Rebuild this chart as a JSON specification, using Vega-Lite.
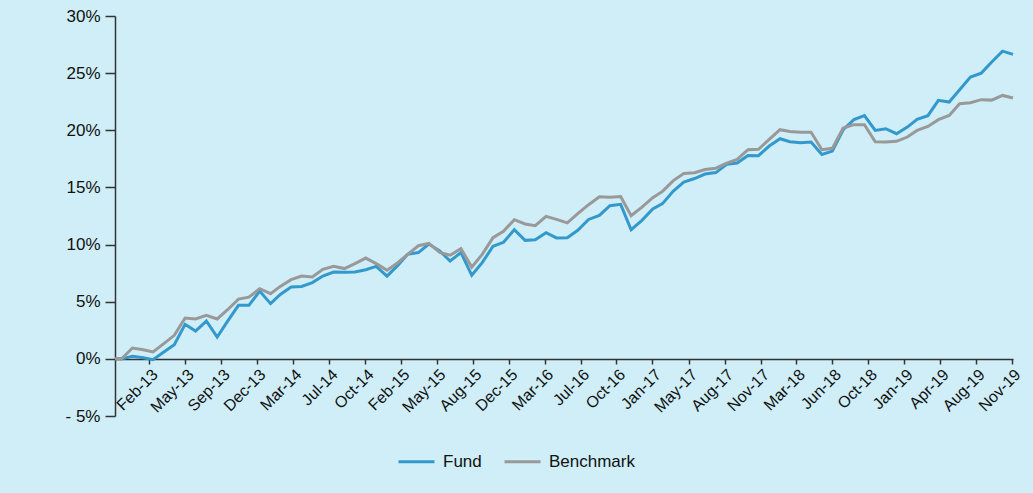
{
  "$schema": "https://vega.github.io/schema/vega-lite/v6.json",
  "width": 898,
  "height": 400,
  "autosize": {"type": "none"},
  "padding": {"left": 115, "top": 16, "right": 20, "bottom": 77},
  "background": "#cfeef8",
  "config": {"view": {"stroke": null}, "font": "Liberation Sans"},
  "data": {"values": [
    {"date": "2012-11-11", "Fund": 0, "Benchmark": 0},
    {"date": "2012-11-30", "Fund": 0, "Benchmark": 0},
    {"date": "2012-12-31", "Fund": 0.22, "Benchmark": 0.95},
    {"date": "2013-01-31", "Fund": 0.1, "Benchmark": 0.8},
    {"date": "2013-02-28", "Fund": -0.07, "Benchmark": 0.6},
    {"date": "2013-03-31", "Fund": 0.6, "Benchmark": 1.33},
    {"date": "2013-04-30", "Fund": 1.24, "Benchmark": 2.06},
    {"date": "2013-05-31", "Fund": 3.02, "Benchmark": 3.57},
    {"date": "2013-06-30", "Fund": 2.43, "Benchmark": 3.49},
    {"date": "2013-07-31", "Fund": 3.31, "Benchmark": 3.8},
    {"date": "2013-08-31", "Fund": 1.91, "Benchmark": 3.49},
    {"date": "2013-09-30", "Fund": 3.3, "Benchmark": 4.3},
    {"date": "2013-10-31", "Fund": 4.68, "Benchmark": 5.23},
    {"date": "2013-11-30", "Fund": 4.68, "Benchmark": 5.4},
    {"date": "2013-12-31", "Fund": 5.93, "Benchmark": 6.14},
    {"date": "2014-01-31", "Fund": 4.83, "Benchmark": 5.7},
    {"date": "2014-02-28", "Fund": 5.64, "Benchmark": 6.34},
    {"date": "2014-03-31", "Fund": 6.28, "Benchmark": 6.93},
    {"date": "2014-04-30", "Fund": 6.34, "Benchmark": 7.25},
    {"date": "2014-05-31", "Fund": 6.67, "Benchmark": 7.16},
    {"date": "2014-06-30", "Fund": 7.25, "Benchmark": 7.83},
    {"date": "2014-07-31", "Fund": 7.6, "Benchmark": 8.09},
    {"date": "2014-08-31", "Fund": 7.57, "Benchmark": 7.9},
    {"date": "2014-09-30", "Fund": 7.6, "Benchmark": 8.33},
    {"date": "2014-10-31", "Fund": 7.8, "Benchmark": 8.82},
    {"date": "2014-11-30", "Fund": 8.09, "Benchmark": 8.33},
    {"date": "2014-12-31", "Fund": 7.24, "Benchmark": 7.76},
    {"date": "2015-01-31", "Fund": 8.18, "Benchmark": 8.41},
    {"date": "2015-02-28", "Fund": 9.15, "Benchmark": 9.14},
    {"date": "2015-03-31", "Fund": 9.3, "Benchmark": 9.9},
    {"date": "2015-04-30", "Fund": 10.05, "Benchmark": 10.1},
    {"date": "2015-05-31", "Fund": 9.45, "Benchmark": 9.32},
    {"date": "2015-06-30", "Fund": 8.56, "Benchmark": 9.07},
    {"date": "2015-07-31", "Fund": 9.3, "Benchmark": 9.64},
    {"date": "2015-08-31", "Fund": 7.31, "Benchmark": 8.03},
    {"date": "2015-09-30", "Fund": 8.42, "Benchmark": 9.14},
    {"date": "2015-10-31", "Fund": 9.85, "Benchmark": 10.6},
    {"date": "2015-11-30", "Fund": 10.2, "Benchmark": 11.16},
    {"date": "2015-12-31", "Fund": 11.3, "Benchmark": 12.18},
    {"date": "2016-01-31", "Fund": 10.37, "Benchmark": 11.8},
    {"date": "2016-02-29", "Fund": 10.43, "Benchmark": 11.65},
    {"date": "2016-03-31", "Fund": 11.04, "Benchmark": 12.47},
    {"date": "2016-04-30", "Fund": 10.58, "Benchmark": 12.2},
    {"date": "2016-05-31", "Fund": 10.6, "Benchmark": 11.9},
    {"date": "2016-06-30", "Fund": 11.25, "Benchmark": 12.7},
    {"date": "2016-07-31", "Fund": 12.2, "Benchmark": 13.49},
    {"date": "2016-08-31", "Fund": 12.55, "Benchmark": 14.19},
    {"date": "2016-09-30", "Fund": 13.4, "Benchmark": 14.15},
    {"date": "2016-10-31", "Fund": 13.52, "Benchmark": 14.2},
    {"date": "2016-11-30", "Fund": 11.3, "Benchmark": 12.53},
    {"date": "2016-12-31", "Fund": 12.12, "Benchmark": 13.28},
    {"date": "2017-01-31", "Fund": 13.11, "Benchmark": 14.1},
    {"date": "2017-02-28", "Fund": 13.58, "Benchmark": 14.65},
    {"date": "2017-03-31", "Fund": 14.68, "Benchmark": 15.6},
    {"date": "2017-04-30", "Fund": 15.47, "Benchmark": 16.22},
    {"date": "2017-05-31", "Fund": 15.78, "Benchmark": 16.29},
    {"date": "2017-06-30", "Fund": 16.17, "Benchmark": 16.57},
    {"date": "2017-07-31", "Fund": 16.3, "Benchmark": 16.68},
    {"date": "2017-08-31", "Fund": 17.02, "Benchmark": 17.13},
    {"date": "2017-09-30", "Fund": 17.13, "Benchmark": 17.45},
    {"date": "2017-10-31", "Fund": 17.8, "Benchmark": 18.3},
    {"date": "2017-11-30", "Fund": 17.78, "Benchmark": 18.33},
    {"date": "2017-12-31", "Fund": 18.62, "Benchmark": 19.2},
    {"date": "2018-01-31", "Fund": 19.26, "Benchmark": 20.05},
    {"date": "2018-02-28", "Fund": 19.0, "Benchmark": 19.9},
    {"date": "2018-03-31", "Fund": 18.9, "Benchmark": 19.82},
    {"date": "2018-04-30", "Fund": 18.97, "Benchmark": 19.83},
    {"date": "2018-05-31", "Fund": 17.89, "Benchmark": 18.3},
    {"date": "2018-06-30", "Fund": 18.18, "Benchmark": 18.42},
    {"date": "2018-07-31", "Fund": 20.05, "Benchmark": 20.19},
    {"date": "2018-08-31", "Fund": 20.93, "Benchmark": 20.49},
    {"date": "2018-09-30", "Fund": 21.28, "Benchmark": 20.49},
    {"date": "2018-10-31", "Fund": 19.99, "Benchmark": 19.0},
    {"date": "2018-11-30", "Fund": 20.14, "Benchmark": 18.97},
    {"date": "2018-12-31", "Fund": 19.7, "Benchmark": 19.03},
    {"date": "2019-01-31", "Fund": 20.28, "Benchmark": 19.41},
    {"date": "2019-02-28", "Fund": 20.95, "Benchmark": 19.99},
    {"date": "2019-03-31", "Fund": 21.28, "Benchmark": 20.34},
    {"date": "2019-04-30", "Fund": 22.62, "Benchmark": 20.93},
    {"date": "2019-05-31", "Fund": 22.47, "Benchmark": 21.3},
    {"date": "2019-06-30", "Fund": 23.55, "Benchmark": 22.33},
    {"date": "2019-07-31", "Fund": 24.66, "Benchmark": 22.41},
    {"date": "2019-08-31", "Fund": 25.0, "Benchmark": 22.68},
    {"date": "2019-09-30", "Fund": 25.97, "Benchmark": 22.64},
    {"date": "2019-10-31", "Fund": 26.93, "Benchmark": 23.05},
    {"date": "2019-11-30", "Fund": 26.64, "Benchmark": 22.82}
  ]},
  "transform": [{"fold": ["Fund", "Benchmark"], "as": ["series", "value"]}],
  "mark": {"type": "line", "strokeWidth": 3},
  "encoding": {
    "x": {
      "field": "date",
      "type": "temporal",
      "scale": {"nice": false},
      "axis": {
        "title": null,
        "grid": false,
        "offset": -57,
        "values": [
          {"year": 2013, "month": 2, "date": 17, "utc": true},
          {"year": 2013, "month": 5, "date": 31, "utc": true},
          {"year": 2013, "month": 9, "date": 11, "utc": true},
          {"year": 2013, "month": 12, "date": 23, "utc": true},
          {"year": 2014, "month": 4, "date": 5, "utc": true},
          {"year": 2014, "month": 7, "date": 18, "utc": true},
          {"year": 2014, "month": 10, "date": 29, "utc": true},
          {"year": 2015, "month": 2, "date": 9, "utc": true},
          {"year": 2015, "month": 5, "date": 23, "utc": true},
          {"year": 2015, "month": 9, "date": 3, "utc": true},
          {"year": 2015, "month": 12, "date": 15, "utc": true},
          {"year": 2016, "month": 3, "date": 27, "utc": true},
          {"year": 2016, "month": 7, "date": 8, "utc": true},
          {"year": 2016, "month": 10, "date": 19, "utc": true},
          {"year": 2017, "month": 1, "date": 30, "utc": true},
          {"year": 2017, "month": 5, "date": 14, "utc": true},
          {"year": 2017, "month": 8, "date": 25, "utc": true},
          {"year": 2017, "month": 12, "date": 6, "utc": true},
          {"year": 2018, "month": 3, "date": 19, "utc": true},
          {"year": 2018, "month": 6, "date": 30, "utc": true},
          {"year": 2018, "month": 10, "date": 11, "utc": true},
          {"year": 2019, "month": 1, "date": 22, "utc": true},
          {"year": 2019, "month": 5, "date": 5, "utc": true},
          {"year": 2019, "month": 8, "date": 16, "utc": true},
          {"year": 2019, "month": 11, "date": 27, "utc": true}
        ],
        "labelExpr": "['Feb-13','May-13','Sep-13','Dec-13','Mar-14','Jul-14','Oct-14','Feb-15','May-15','Aug-15','Dec-15','Mar-16','Jul-16','Oct-16','Jan-17','May-17','Aug-17','Nov-17','Mar-18','Jun-18','Oct-18','Jan-19','Apr-19','Aug-19','Nov-19'][round((datum.value - utc(2013,1,17)) / 8907000000)]",
        "labelAngle": -45,
        "labelFontSize": 16,
        "labelColor": "#111111",
        "labelOverlap": false,
        "labelFlush": false,
        "labelBound": false,
        "labelPadding": 2,
        "labelDx": -3.5,
        "labelDy": -3.5,
        "tickSize": 5,
        "tickColor": "#333333",
        "domainColor": "#333333",
        "domainWidth": 1.5,
        "tickWidth": 1.5
      }
    },
    "y": {
      "field": "value",
      "type": "quantitative",
      "scale": {"domain": [-5, 30], "nice": false, "zero": false},
      "axis": {
        "title": null,
        "grid": false,
        "values": [-5, 0, 5, 10, 15, 20, 25, 30],
        "labelExpr": "datum.value < 0 ? '- ' + abs(datum.value) + '%' : datum.value + '%'",
        "labelFontSize": 17,
        "labelColor": "#111111",
        "labelPadding": 5,
        "tickSize": 10,
        "tickColor": "#333333",
        "tickWidth": 1.5,
        "domainColor": "#333333",
        "domainWidth": 1.5
      }
    },
    "color": {
      "field": "series",
      "type": "nominal",
      "scale": {"domain": ["Fund", "Benchmark"], "range": ["#3399cc", "#999999"]},
      "legend": {
        "title": null,
        "orient": "none",
        "legendX": 282,
        "legendY": 426,
        "direction": "horizontal",
        "symbolType": "stroke",
        "symbolSize": 1296,
        "symbolStrokeWidth": 3,
        "labelFontSize": 17,
        "labelColor": "#111111",
        "labelOffset": 7,
        "columnPadding": 16,
        "padding": 0
      }
    }
  }
}
